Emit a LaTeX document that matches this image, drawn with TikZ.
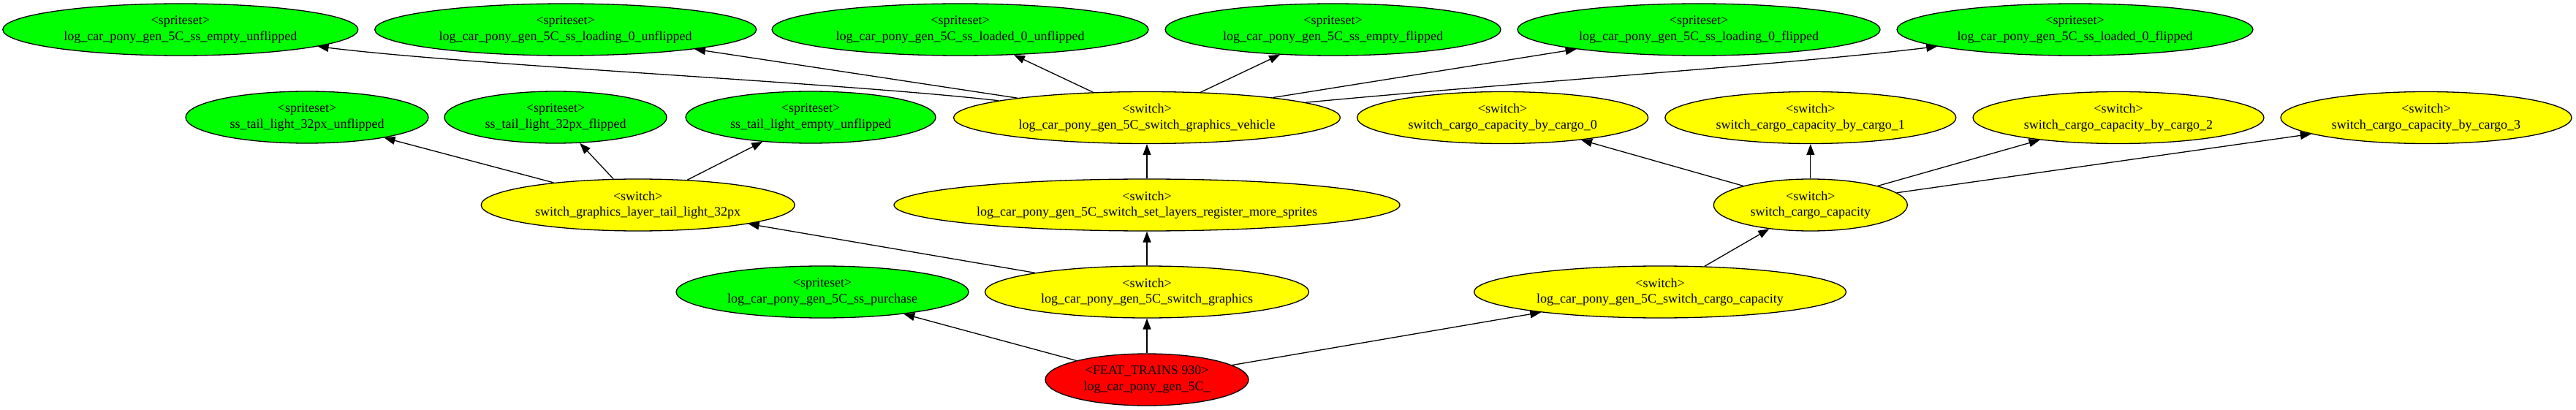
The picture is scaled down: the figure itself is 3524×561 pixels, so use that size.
\documentclass[tikz,border=0pt]{standalone}
\usepackage{fontspec}
\setmainfont{Liberation Serif}
\usetikzlibrary{shapes.geometric,arrows.meta}
\definecolor{gvgreen}{HTML}{00FF00}
\definecolor{gvyellow}{HTML}{FFFF00}
\definecolor{gvred}{HTML}{FF0000}
\newcommand{\lcp}{log\_car\_pony\_gen\_5C\_}
\newcommand{\spr}{\textless spriteset\textgreater}
\newcommand{\swi}{\textless switch\textgreater}
\begin{document}
\begin{tikzpicture}[x=1pt,y=-1pt,
  gnode/.style={ellipse, draw=black, line width=1.3pt, inner sep=0pt, align=center,
    font=\fontsize{18}{21.6}\selectfont, minimum height=71pt},
  sprite/.style={gnode, fill=gvgreen},
  switchnode/.style={gnode, fill=gvyellow},
  featnode/.style={gnode, fill=gvred},
  edge/.style={draw=black, line width=1.3pt, -{Triangle[length=15pt,width=11pt]}}]
\fill[white] (0,0) rectangle (3524,561);
\useasboundingbox (0,0) rectangle (3524,561);
% row 1
\node[sprite, minimum width=486pt] (e1) at (246.8,40.5) {\spr\\\lcp ss\_empty\_unflipped};
\node[sprite, minimum width=522pt] (e2) at (773.7,40.5) {\spr\\\lcp ss\_loading\_0\_unflipped};
\node[sprite, minimum width=515pt] (e3) at (1313.5,40.5) {\spr\\\lcp ss\_loaded\_0\_unflipped};
\node[sprite, minimum width=459pt] (e4) at (1823.5,40.5) {\spr\\\lcp ss\_empty\_flipped};
\node[sprite, minimum width=496pt] (e5) at (2324,40.5) {\spr\\\lcp ss\_loading\_0\_flipped};
\node[sprite, minimum width=487pt] (e6) at (2838.5,40.5) {\spr\\\lcp ss\_loaded\_0\_flipped};
% row 2
\node[sprite, minimum width=332pt] (t1) at (420,160.5) {\spr\\ss\_tail\_light\_32px\_unflipped};
\node[sprite, minimum width=304pt] (t2) at (760,160.5) {\spr\\ss\_tail\_light\_32px\_flipped};
\node[sprite, minimum width=342pt] (t3) at (1109,160.5) {\spr\\ss\_tail\_light\_empty\_unflipped};
\node[switchnode, minimum width=529pt] (veh) at (1569,161) {\swi\\\lcp switch\_graphics\_vehicle};
\node[switchnode, minimum width=398pt] (c0) at (2055.6,161) {\swi\\switch\_cargo\_capacity\_by\_cargo\_0};
\node[switchnode, minimum width=398pt] (c1) at (2476.8,161) {\swi\\switch\_cargo\_capacity\_by\_cargo\_1};
\node[switchnode, minimum width=398pt] (c2) at (2898,161) {\swi\\switch\_cargo\_capacity\_by\_cargo\_2};
\node[switchnode, minimum width=398pt] (c3) at (3319,161) {\swi\\switch\_cargo\_capacity\_by\_cargo\_3};
% row 3
\node[switchnode, minimum width=429pt] (tl) at (872.7,280.5) {\swi\\switch\_graphics\_layer\_tail\_light\_32px};
\node[switchnode, minimum width=692pt] (sl) at (1569,280.5) {\swi\\\lcp switch\_set\_layers\_register\_more\_sprites};
\node[switchnode, minimum width=265pt] (cc) at (2476.8,280.5) {\swi\\switch\_cargo\_capacity};
% row 4
\node[sprite, minimum width=400pt] (pur) at (1125,399.5) {\spr\\\lcp ss\_purchase};
\node[switchnode, minimum width=443pt] (sg) at (1569,399.5) {\swi\\\lcp switch\_graphics};
\node[switchnode, minimum width=509pt] (lcc) at (2271,399.5) {\swi\\\lcp switch\_cargo\_capacity};
% row 5
\node[featnode, minimum width=278pt] (feat) at (1569,519.5) {\textless FEAT\_TRAINS 930\textgreater\\\lcp};
% edges
\draw[edge] (feat) -- (pur);
\draw[edge] (feat) -- (sg);
\draw[edge] (feat) -- (lcc);
\draw[edge] (sg) -- (tl);
\draw[edge] (sg) -- (sl);
\draw[edge] (sl) -- (veh);
\draw[edge] (lcc) -- (cc);
\draw[edge] (tl) -- (t1);
\draw[edge] (tl) -- (t2);
\draw[edge] (tl) -- (t3);
\draw[edge] (veh) .. controls (1150,113) and (650,90) .. (e1);
\draw[edge] (veh) -- (e2);
\draw[edge] (veh) -- (e3);
\draw[edge] (veh) -- (e4);
\draw[edge] (veh) -- (e5);
\draw[edge] (veh) .. controls (2050,115) and (2450,88) .. (e6);
\draw[edge] (cc) -- (c0);
\draw[edge] (cc) -- (c1);
\draw[edge] (cc) -- (c2);
\draw[edge] (cc) -- (c3);
\end{tikzpicture}
\end{document}
